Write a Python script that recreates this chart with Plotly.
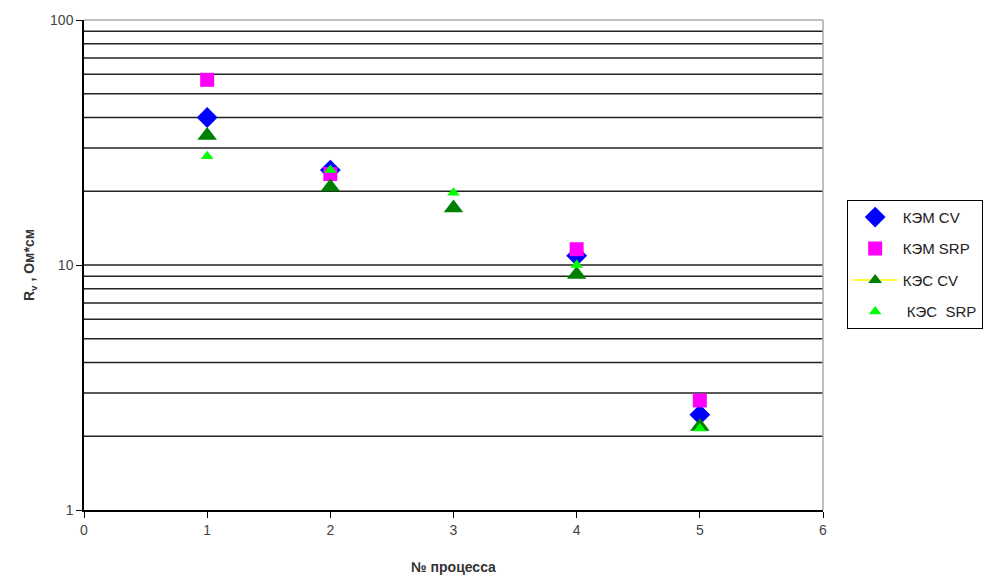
import plotly.graph_objects as go

process = [1, 2, 3, 4, 5]
kem_cv_x = [1, 2, 4, 5]
kem_cv = [40, 24.4, 10.9, 2.45]
kem_srp_x = [1, 2, 4, 5]
kem_srp = [57, 23.5, 11.6, 2.8]
kes_cv_x = [1, 2, 3, 4, 5]
kes_cv = [33.8, 20.8, 17.1, 9.15, 2.19]
kes_srp_x = [1, 2, 3, 4, 5]
kes_srp = [27.8, 24.4, 19.7, 10.0, 2.15]

grid_vals = [2, 3, 4, 5, 6, 7, 8, 9, 10, 20, 30, 40, 50, 60, 70, 80, 90]

font = "Liberation Sans, Arial, sans-serif"
fig = go.Figure()

fig.add_trace(go.Scatter(x=kem_cv_x, y=kem_cv, mode="markers", name="КЭМ CV", legendgroup="a",
                         marker=dict(symbol="diamond", size=16, color="#0000FF")))
fig.add_trace(go.Scatter(x=kem_srp_x, y=kem_srp, mode="markers", name="КЭМ SRP", legendgroup="b",
                         marker=dict(symbol="square", size=14, color="#FF00FF")))
fig.add_trace(go.Scatter(x=kes_cv_x, y=kes_cv, mode="markers", name="КЭС CV", showlegend=False,
                         legendgroup="c",
                         marker=dict(symbol="triangle-up", size=17, color="#007F00")))
fig.add_trace(go.Scatter(x=[None], y=[None], mode="lines+markers", name="КЭС CV", legendgroup="c",
                         line=dict(color="#FFFF00", width=1.5),
                         marker=dict(symbol="triangle-up", size=12, color="#007F00")))
fig.add_trace(go.Scatter(x=kes_srp_x, y=kes_srp, mode="markers", name=" КЭС  SRP", legendgroup="d",
                         marker=dict(symbol="triangle-up", size=11, color="#00FF00")))

shapes = []
for g in grid_vals:
    shapes.append(dict(type="line", xref="paper", yref="y", x0=0, x1=1, y0=g, y1=g,
                       line=dict(color="#222222", width=1.5), layer="below"))
shapes.append(dict(type="line", xref="paper", yref="paper", x0=1, x1=1, y0=0, y1=1,
                   line=dict(color="#AAAAAA", width=1.5)))
shapes.append(dict(type="line", xref="paper", yref="paper", x0=0, x1=1, y0=1, y1=1,
                   line=dict(color="#AAAAAA", width=1.5)))

fig.update_layout(
    width=997, height=585,
    margin=dict(l=84, r=174, t=19, b=73),
    paper_bgcolor="white", plot_bgcolor="white",
    font=dict(family=font, size=14, color="#444444"),
    shapes=shapes,
    showlegend=True,
    legend=dict(x=1.032, y=0.633, xanchor="left", yanchor="top",
                bordercolor="#000000", borderwidth=1, bgcolor="white",
                font=dict(family=font, size=15, color="#222222"),
                itemwidth=45, tracegroupgap=9),
    xaxis=dict(range=[0, 6], tickvals=[0, 1, 2, 3, 4, 5, 6], showgrid=False, zeroline=False,
               showline=True, linecolor="#000000", linewidth=1.5,
               ticks="outside", ticklen=6, tickcolor="#000000",
               tickfont=dict(family=font, size=14, color="#444444"),
               title=dict(text="<b>№ процесса</b>", standoff=26,
                          font=dict(family=font, size=14, color="#333333"))),
    yaxis=dict(type="log", range=[0, 2], tickvals=[1, 10, 100], ticktext=["1", "10", "100"],
               showgrid=False, zeroline=False,
               showline=True, linecolor="#000000", linewidth=1.5,
               ticks="outside", ticklen=6, tickcolor="#000000",
               tickfont=dict(family=font, size=14, color="#444444"),
               title=dict(text="<b>R<sub>v</sub> , Ом*см</b>", standoff=12,
                          font=dict(family=font, size=14, color="#333333"))),
)

fig.write_html("out.html")
